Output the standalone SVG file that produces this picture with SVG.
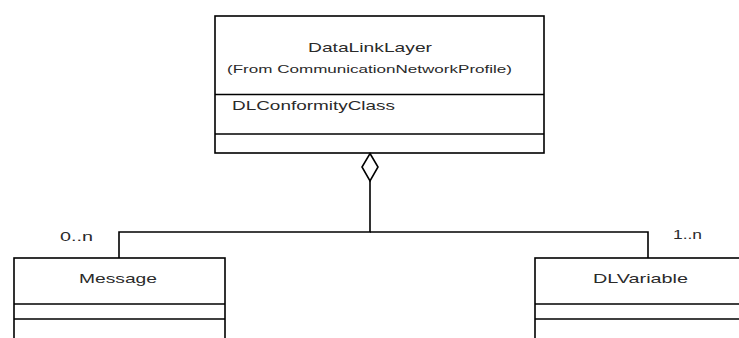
<svg xmlns="http://www.w3.org/2000/svg" width="739" height="338" viewBox="0 0 739 338">
<style>
.box{fill:#fff;stroke:#000;stroke-width:1.6}
.ln{fill:none;stroke:#000;stroke-width:1.6}
text{font-family:"Liberation Sans",Arial,sans-serif;fill:#2a2a2a}
.t{font-size:13.5px}
.s{font-size:11px}
.m{font-size:12px}
</style>
<rect width="739" height="338" fill="#fff"/>
<g id="DataLinkLayer">
<rect class="box" x="215" y="16" width="329" height="137"/>
<line class="ln" x1="215" y1="94.5" x2="544" y2="94.5"/>
<line class="ln" x1="215" y1="134" x2="544" y2="134"/>
<text class="t" x="308" y="52" textLength="124" lengthAdjust="spacingAndGlyphs">DataLinkLayer</text>
<text class="s" x="227" y="73" textLength="285" lengthAdjust="spacingAndGlyphs">(From CommunicationNetworkProfile)</text>
<text class="t" x="232" y="110" textLength="163" lengthAdjust="spacingAndGlyphs">DLConformityClass</text>
</g>
<g id="Message">
<rect class="box" x="14" y="258" width="211" height="100"/>
<line class="ln" x1="14" y1="304" x2="225" y2="304"/>
<line class="ln" x1="14" y1="319" x2="225" y2="319"/>
<text class="t" x="79" y="283" textLength="78" lengthAdjust="spacingAndGlyphs">Message</text>
</g>
<g id="DLVariable">
<rect class="box" x="535" y="258" width="220" height="100"/>
<line class="ln" x1="535" y1="304" x2="755" y2="304"/>
<line class="ln" x1="535" y1="319" x2="755" y2="319"/>
<text class="t" x="593" y="283" textLength="95" lengthAdjust="spacingAndGlyphs">DLVariable</text>
</g>
<g id="connectors">
<polygon class="box" points="370,153.5 378,167 370,181 362,167"/>
<polyline class="ln" points="370,181 370,232 119,232 119,258"/>
<polyline class="ln" points="370,232 648,232 648,258"/>
<text class="m" x="60" y="241" textLength="33" lengthAdjust="spacingAndGlyphs">0..n</text>
<text class="m" x="673" y="239" textLength="29" lengthAdjust="spacingAndGlyphs">1..n</text>
</g>
</svg>
